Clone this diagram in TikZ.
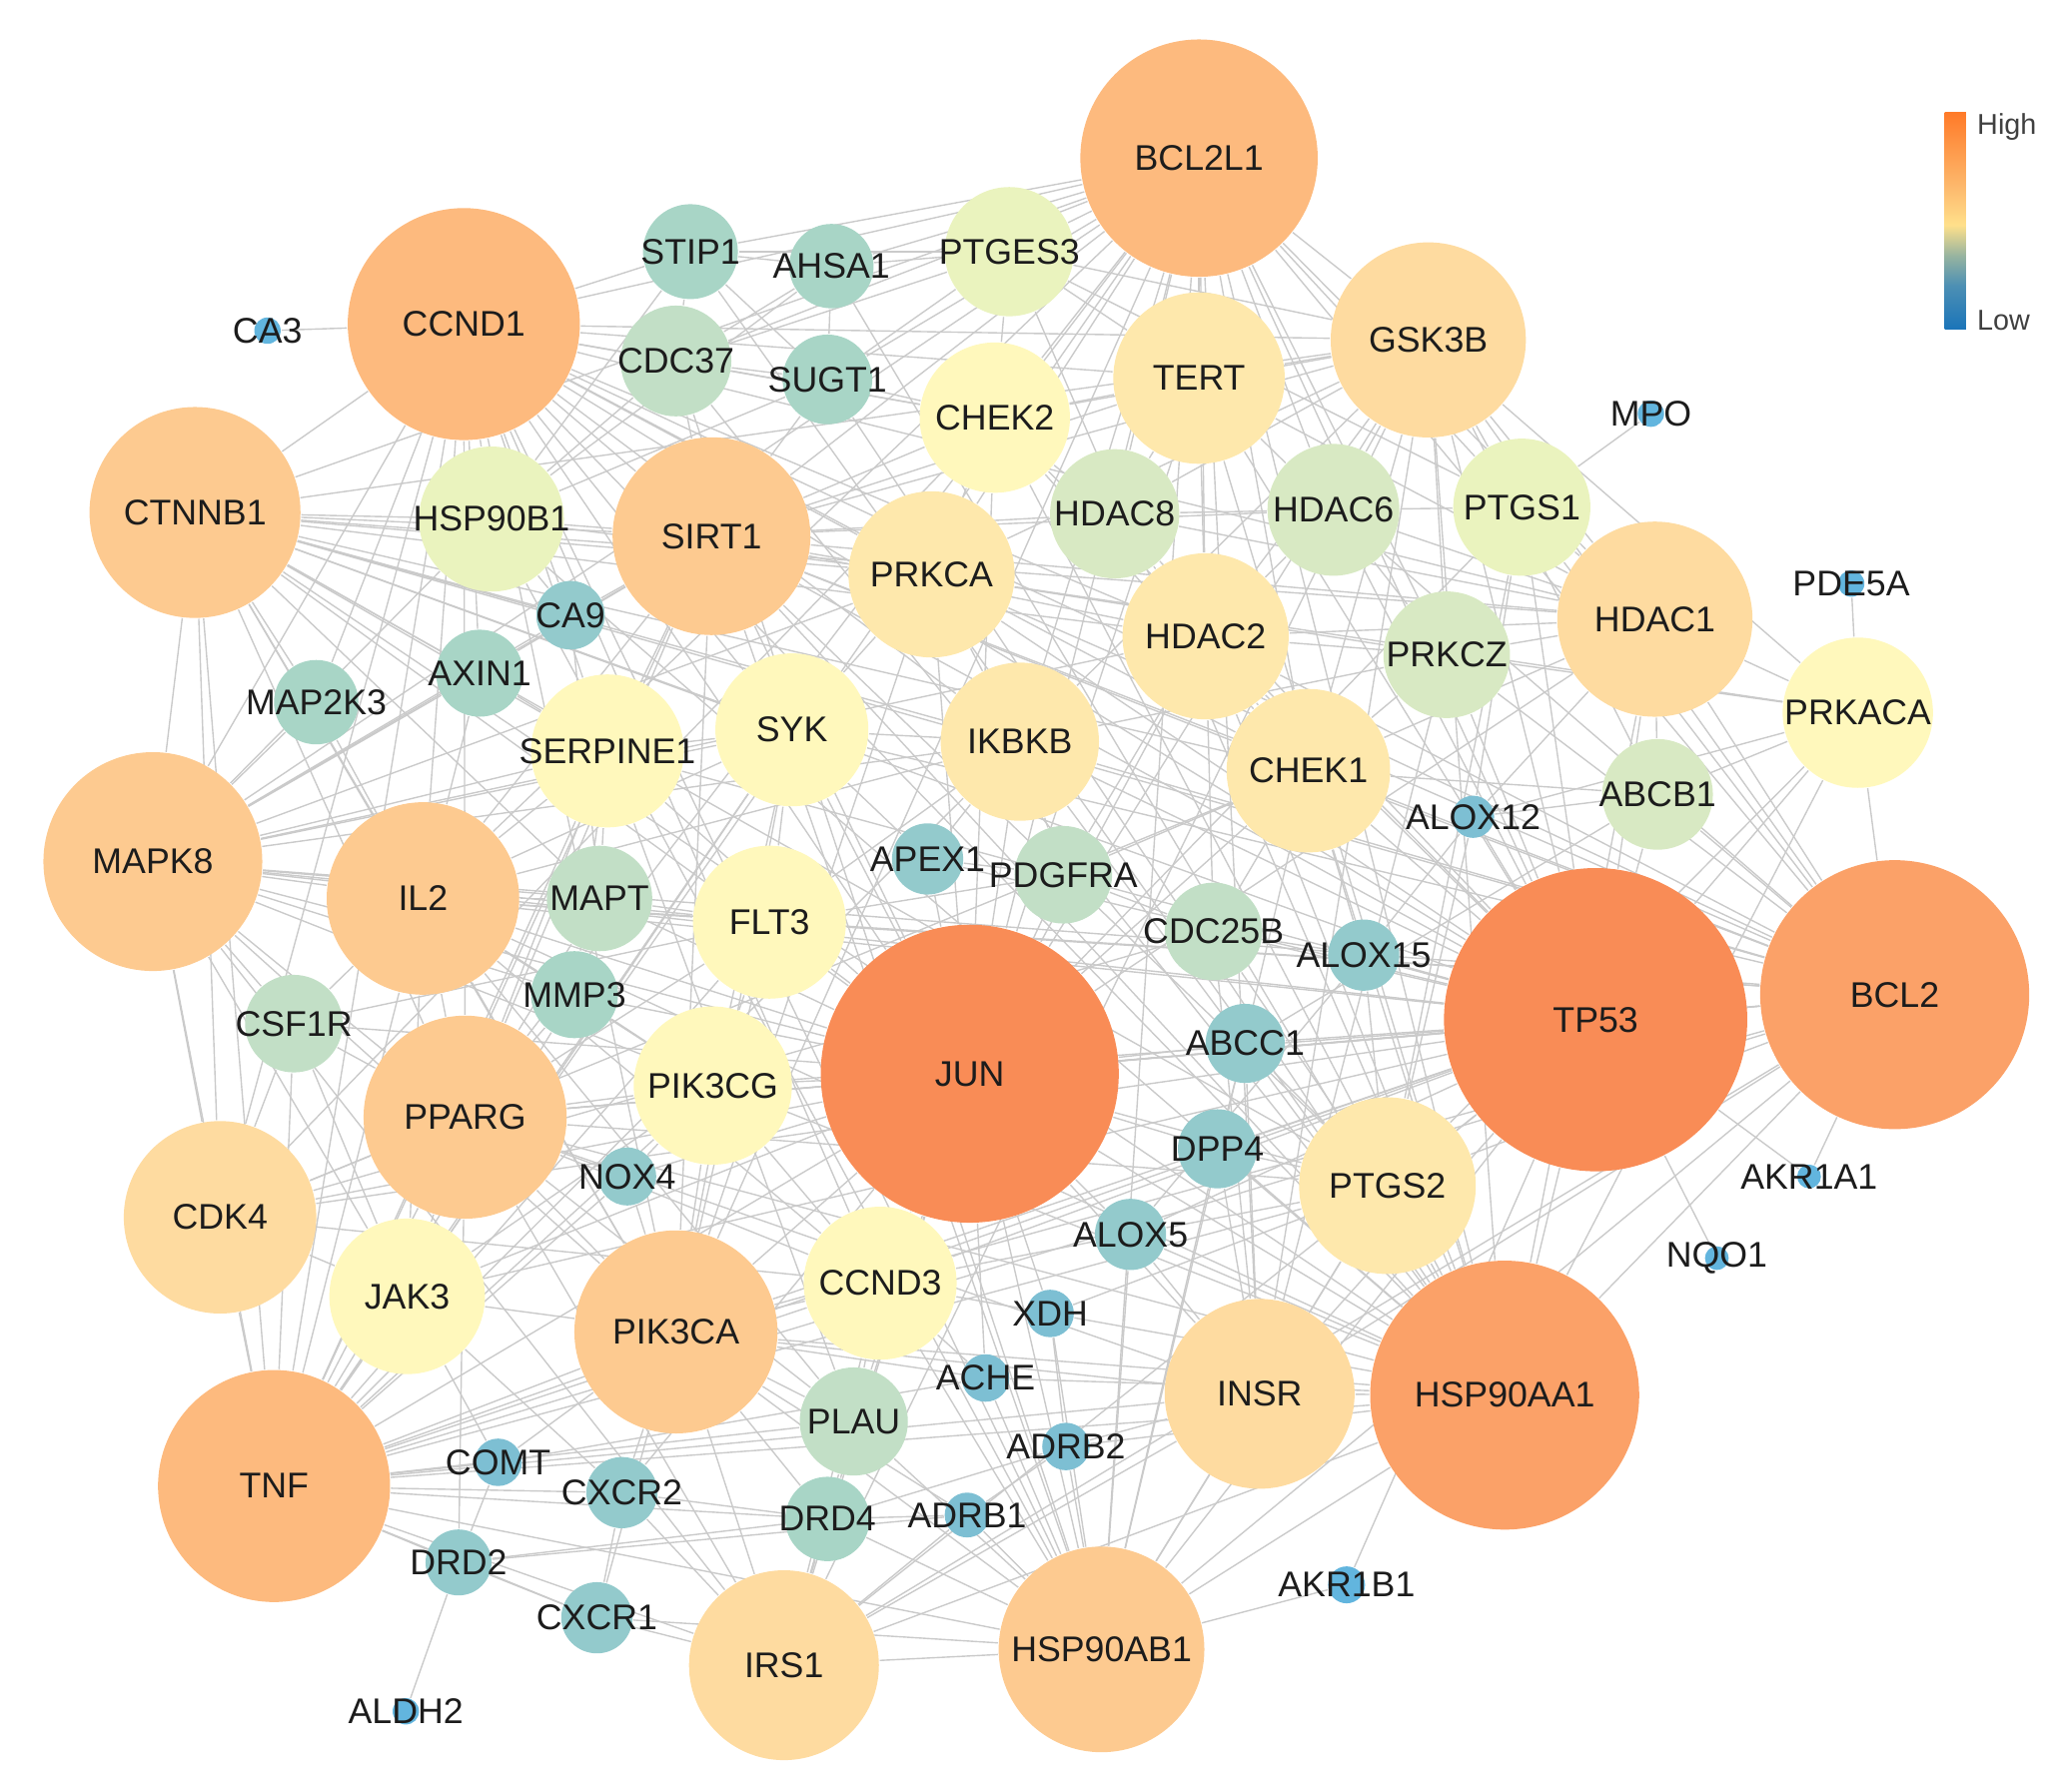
\documentclass[tikz,border=0pt]{standalone}
\usepackage{fontspec}
\setmainfont{Liberation Sans}
\usetikzlibrary{backgrounds}

% degree colours, low to high
\definecolor{lvA}{HTML}{62B5DE}
\definecolor{lvB}{HTML}{7DBFD3}
\definecolor{lvC}{HTML}{93CACC}
\definecolor{lvD}{HTML}{A8D5C6}
\definecolor{lvE}{HTML}{C2DFC6}
\definecolor{lvF}{HTML}{D8E9C3}
\definecolor{lvG}{HTML}{EAF3BE}
\definecolor{lvH}{HTML}{FFF8BC}
\definecolor{lvI}{HTML}{FEE8AC}
\definecolor{lvJ}{HTML}{FEDBA0}
\definecolor{lvK}{HTML}{FDCA90}
\definecolor{lvL}{HTML}{FDBA7E}
\definecolor{lvM}{HTML}{FBA168}
\definecolor{lvN}{HTML}{F98C56}
\definecolor{edgegray}{HTML}{CACACA}
\definecolor{txt}{HTML}{1C1C1C}
\definecolor{barlow}{HTML}{1A74B9}
\definecolor{barsteel}{HTML}{4C8FB4}
\definecolor{bargreen}{HTML}{98B4A0}
\definecolor{baryel}{HTML}{FFE08B}
\definecolor{barlight}{HTML}{FDB86C}
\definecolor{barhigh}{HTML}{FF7A28}

\pgfdeclareverticalshading{heatbar}{100bp}{color(0bp)=(barlow); color(25bp)=(barlow); color(35bp)=(barsteel); color(42bp)=(bargreen); color(49bp)=(baryel); color(58bp)=(barlight); color(75bp)=(barhigh); color(100bp)=(barhigh)}

\tikzset{
	gene/.style={circle, inner sep=0pt, draw=none},
	genelabel/.style={font=\fontsize{7.7}{9}\selectfont, text=txt, inner sep=0pt},
	legendtext/.style={font=\fontsize{6.2}{7}\selectfont, text=black!75, inner sep=0pt},
	link/.style={draw=edgegray, line width=0.3pt},
}

% name/x/y/radius/colour
\def\genelist{JUN/736/815/113/lvN, TP53/1211/774/115/lvN,
	BCL2/1438/755/102/lvM, HSP90AA1/1142/1059/102/lvM,
	BCL2L1/910/120/90/lvL, CCND1/352/246/88/lvL, TNF/208/1128/88/lvL,
	MAPK8/116/654/83/lvK, SIRT1/540/407/75/lvK, CTNNB1/148/389/80/lvK, IL2/321/682/73/lvK,
	PPARG/353/848/77/lvK, PIK3CA/513/1011/77/lvK, HSP90AB1/836/1252/78/lvK,
	GSK3B/1084/258/74/lvJ, HDAC1/1256/470/74/lvJ, IRS1/595/1264/72/lvJ, INSR/956/1058/72/lvJ, CDK4/167/924/73/lvJ,
	TERT/910/287/65/lvI, PTGS2/1053/900/67/lvI, HDAC2/915/483/63/lvI, CHEK1/993/585/62/lvI,
	IKBKB/774/563/60/lvI, PRKCA/707/436/63/lvI,
	SERPINE1/461/570/58/lvH, SYK/601/554/58/lvH, CHEK2/755/317/57/lvH, FLT3/584/700/58/lvH,
	PIK3CG/541/824/60/lvH, JAK3/309/984/59/lvH, CCND3/668/974/58/lvH, PRKACA/1410/541/57/lvH,
	PTGS1/1155/385/52/lvG, HSP90B1/373/394/55/lvG, PTGES3/766/191/49/lvG,
	HDAC6/1012/387/50/lvF, PRKCZ/1098/497/48/lvF, HDAC8/846/390/49/lvF, ABCB1/1258/603/42/lvF,
	MAPT/455/682/40/lvE, PDGFRA/807/664/37/lvE, CDC25B/921/707/37/lvE, PLAU/648/1079/41/lvE,
	CDC37/513/274/42/lvE, CSF1R/223/777/37/lvE,
	STIP1/524/191/36/lvD, AHSA1/631/202/32/lvD, SUGT1/628/288/34/lvD, MAP2K3/240/533/32/lvD,
	AXIN1/364/511/33/lvD, MMP3/436/755/33/lvD, DRD4/628/1153/32/lvD,
	CA9/433/467/26/lvC, ALOX15/1035/725/27/lvC, APEX1/704/652/27/lvC, NOX4/476/893/22/lvC,
	ABCC1/945/792/30/lvC, DPP4/924/872/30/lvC, DRD2/348/1186/25/lvC, CXCR1/453/1228/27/lvC,
	CXCR2/472/1133/27/lvC, ALOX5/858/937/27/lvC,
	ALOX12/1118/620/16/lvB, COMT/378/1110/18/lvB, XDH/797/997/18/lvB, ACHE/748/1046/18/lvB,
	ADRB1/734/1150/17/lvB, ADRB2/809/1098/18/lvB,
	CA3/203/251/10/lvA, MPO/1253/314/10/lvA, PDE5A/1405/443/10/lvA, AKR1A1/1373/893/9/lvA,
	NQO1/1303/955/9/lvA, AKR1B1/1022/1203/14/lvA, ALDH2/308/1299/10/lvA}

\begin{document}
\begin{tikzpicture}[x=0.01cm, y=-0.01cm]
	\useasboundingbox (0,0) rectangle (1568,1360);

	% genes, then their names on top
	\foreach \n/\x/\y/\r/\c in \genelist
		\node[gene, fill=\c, minimum size=\r*0.02cm] (\n) at (\x,\y) {};
	\foreach \n/\x/\y/\r/\c in \genelist
		\node[genelabel] (\n-t) at (\n) {\n};

	% interactions
	\begin{scope}[on background layer]
		\foreach \a/\bs in {
			JUN/{TP53,BCL2,HSP90AA1,BCL2L1,CCND1,TNF,MAPK8,SIRT1,CTNNB1,IL2,PPARG,PIK3CA,HSP90AB1,GSK3B,HDAC1,IRS1,INSR,CDK4,TERT,PTGS2,HDAC2,CHEK1,IKBKB,PRKCA,SERPINE1,SYK,CHEK2,FLT3,PIK3CG,JAK3,CCND3,PTGS1,MAPT,PDGFRA,PLAU,CSF1R,MMP3,ALOX5,NOX4,APEX1,DPP4,ABCC1,XDH,ACHE,CXCR2,DRD4},
			TP53/{BCL2,HSP90AA1,BCL2L1,CCND1,TNF,MAPK8,SIRT1,CTNNB1,IL2,PPARG,PIK3CA,HSP90AB1,GSK3B,HDAC1,IRS1,INSR,CDK4,TERT,PTGS2,HDAC2,CHEK1,CHEK2,IKBKB,PRKCA,SERPINE1,PRKACA,HDAC6,HDAC8,PRKCZ,ABCB1,ALOX12,ALOX15,CDC25B,APEX1,DPP4,ABCC1,NQO1,AKR1A1,AKR1B1,PTGS1,ALOX5,CCND3,PIK3CG,JAK3},
			BCL2/{HSP90AA1,BCL2L1,CCND1,TNF,MAPK8,SIRT1,CTNNB1,IL2,PPARG,PIK3CA,HSP90AB1,GSK3B,HDAC1,IRS1,INSR,PTGS2,HDAC2,CHEK1,IKBKB,PRKCA,PRKACA,ABCB1,PRKCZ,SYK,FLT3,AKR1A1,PTGS1,HDAC6},
			HSP90AA1/{BCL2L1,CCND1,TNF,MAPK8,SIRT1,CTNNB1,IL2,PPARG,PIK3CA,HSP90AB1,GSK3B,HDAC1,IRS1,INSR,TERT,PTGS2,HDAC2,CHEK1,CHEK2,IKBKB,PRKACA,STIP1,AHSA1,CDC37,SUGT1,PTGES3,HSP90B1,ALOX5,DPP4,XDH,ADRB2,ACHE},
			BCL2L1/{CCND1,TNF,MAPK8,SIRT1,CTNNB1,IL2,PPARG,PIK3CA,HSP90AB1,GSK3B,HDAC1,TERT,HDAC2,CHEK2,PTGES3,CDC37,SUGT1,AHSA1,STIP1,PRKCA,PTGS1,HDAC6,HDAC8,PRKCZ,IKBKB,CHEK1,INSR},
			CCND1/{TNF,MAPK8,SIRT1,CTNNB1,IL2,PPARG,PIK3CA,HSP90AB1,GSK3B,HDAC1,CDK4,CCND3,CHEK1,CHEK2,HSP90B1,CDC37,STIP1,CA3,AXIN1,CA9,SERPINE1,SYK,PRKCA,TERT,HDAC2,IKBKB,MAP2K3},
			TNF/{MAPK8,SIRT1,CTNNB1,IL2,PPARG,PIK3CA,HSP90AB1,CDK4,JAK3,COMT,DRD2,CXCR1,CXCR2,IRS1,INSR,SERPINE1,SYK,PTGS2,MMP3,CSF1R,IKBKB,FLT3,PLAU,NOX4,DRD4,CCND3,PIK3CG},
			MAPK8/{SIRT1,CTNNB1,IL2,PPARG,PIK3CA,CDK4,MAP2K3,AXIN1,CSF1R,SERPINE1,SYK,IKBKB,PRKCA,MAPT,MMP3,HSP90B1,JAK3,IRS1,CA9,FLT3,HDAC2},
			SIRT1/{CTNNB1,IL2,PPARG,PIK3CA,HSP90AB1,GSK3B,HDAC1,HDAC2,HDAC6,HDAC8,TERT,CHEK1,CHEK2,PRKCA,SERPINE1,CA9,AXIN1,HSP90B1,CDC37,SUGT1,PTGS2},
			CTNNB1/{IL2,PPARG,PIK3CA,GSK3B,HDAC1,CDK4,AXIN1,MAP2K3,HSP90B1,SERPINE1,SYK,PRKCA,CA9,MAPT,IKBKB,HDAC2,CHEK1,PTGS2},
			IL2/{PPARG,PIK3CA,JAK3,CSF1R,SYK,FLT3,MAPT,MMP3,SERPINE1,PIK3CG,IKBKB,AXIN1,MAP2K3,PLAU,CCND3},
			PPARG/{PIK3CA,CDK4,JAK3,PIK3CG,NOX4,MMP3,CSF1R,SERPINE1,INSR,IRS1,PTGS2,FLT3,MAPT,CCND3,PLAU,DRD2},
			PIK3CA/{HSP90AB1,IRS1,INSR,JAK3,CCND3,PLAU,DRD4,CXCR2,CXCR1,PIK3CG,FLT3,SYK,PRKCA,NOX4,COMT,ADRB1,ACHE},
			HSP90AB1/{IRS1,INSR,CCND3,PLAU,DRD4,ADRB1,ADRB2,ACHE,XDH,ALOX5,AKR1B1,CXCR1,DPP4,HSP90B1,CDC37,PTGS2,CHEK1},
			GSK3B/{HDAC1,TERT,HDAC6,HDAC8,PTGS1,PRKCZ,CHEK2,HDAC2,PRKCA,IKBKB,CHEK1,PTGES3,INSR,IRS1,PRKACA,ABCB1},
			HDAC1/{HDAC2,HDAC6,HDAC8,PRKCZ,PTGS1,PRKACA,ABCB1,CHEK1,TERT,ALOX12},
			INSR/{IRS1,PTGS2,DPP4,ALOX5,CDC25B,ABCC1,PRKCZ,ADRB2},
			IRS1/{DRD4,CXCR1,CXCR2,PLAU,ADRB1,CCND3},
			CDK4/{JAK3,CSF1R,CHEK1,CCND3,CDC25B,CHEK2},
			TERT/{HDAC2,HDAC8,CHEK2,PTGES3,HDAC6},
			PTGS2/{DPP4,ALOX5,ALOX15,ALOX12,PTGS1,CDC25B,ABCC1,PRKACA,XDH},
			HDAC2/{HDAC8,HDAC6,CHEK1,PRKCZ,CDC25B,PDGFRA},
			CHEK1/{CHEK2,CDC25B,PRKCZ,ALOX15,ABCB1,PDGFRA},
			IKBKB/{SYK,PRKCA,APEX1,PDGFRA,FLT3,PRKCZ},
			PRKCA/{PRKCZ,CHEK2,SYK,HSP90B1,PRKACA},
			SERPINE1/{PLAU,MAPT,MMP3,AXIN1,SYK},
			SYK/{FLT3,PIK3CG,JAK3,APEX1},
			CHEK2/{PTGES3,SUGT1,CDC37,HDAC8},
			FLT3/{PIK3CG,PDGFRA,CSF1R,MAPT},
			PIK3CG/{JAK3,NOX4,MMP3,CCND3},
			JAK3/{CSF1R,CXCR2,COMT},
			CCND3/{PLAU,XDH,ACHE,ALOX5},
			PRKACA/{ABCB1,PRKCZ,ALOX12,PDE5A},
			PTGS1/{ALOX12,HDAC6,MPO,PTGES3},
			HSP90B1/{CDC37,STIP1,AHSA1,SUGT1,CA9},
			PTGES3/{STIP1,AHSA1,CDC37,SUGT1},
			STIP1/{AHSA1,CDC37,SUGT1},
			AHSA1/{CDC37,SUGT1},
			CDC37/{SUGT1},
			HDAC6/{HDAC8,PRKCZ},
			ABCB1/{ABCC1,ALOX12},
			MAPT/{MMP3,CA9},
			PDGFRA/{APEX1,CDC25B},
			ALOX15/{ALOX12,ALOX5,CDC25B},
			ABCC1/{DPP4},
			DRD4/{ADRB1,ADRB2,DRD2,CXCR2},
			DRD2/{COMT,CXCR1,ALDH2,ADRB1},
			CXCR1/{CXCR2},
			COMT/{ACHE},
			ADRB2/{ADRB1,XDH}} {
			\foreach \b in \bs {
				\draw[link] (\a) -- (\b);
			}
		}
	\end{scope}

	% colour key
	\shade[shading=heatbar] (1476,85) rectangle (1492,250);
	\node[legendtext, anchor=west] (high) at (1500,96) {High};
	\node[legendtext, anchor=west] (low) at (1500,243) {Low};
\end{tikzpicture}
\end{document}
